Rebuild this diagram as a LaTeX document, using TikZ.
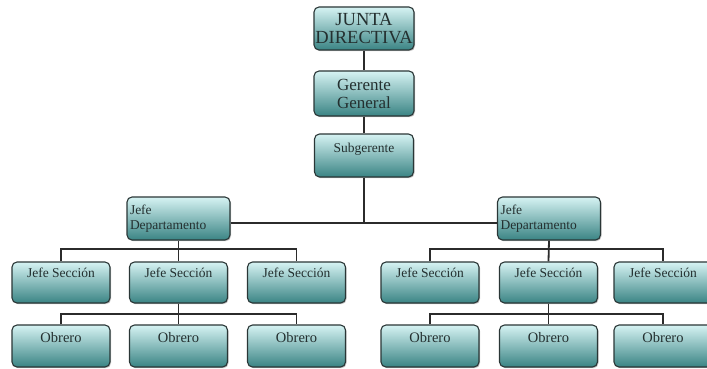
\documentclass[tikz,border=0pt]{standalone}
\usepackage{fontspec}
\setmainfont{Liberation Serif}
\usetikzlibrary{shadows}
\definecolor{boxtop}{HTML}{D6F3F3}
\definecolor{boxmid}{HTML}{99D3D3}
\definecolor{boxbot}{HTML}{3A8484}
\definecolor{boxedge}{HTML}{2A3636}
\definecolor{txt}{HTML}{243030}
\definecolor{wire}{HTML}{2B2B2B}
\tikzset{
  orgbox/.style={rounded corners=5pt, draw=boxedge, line width=1.1pt,
    top color=boxtop, middle color=boxmid, bottom color=boxbot,
    drop shadow={opacity=0.45, shadow xshift=1pt, shadow yshift=-1.2pt},
    inner sep=0pt, text=txt, font=\fontsize{13.5}{15}\selectfont},
  bigbox/.style={orgbox, minimum width=100pt, align=center,
    font=\fontsize{17}{18}\selectfont},
  secbox/.style={orgbox, minimum width=98pt, text height=15pt, text depth=26pt},
  obrbox/.style={orgbox, minimum width=98pt, text height=17pt, text depth=25pt,
    font=\fontsize{14.5}{16}\selectfont},
  deptbox/.style={orgbox, minimum width=103pt, minimum height=43pt,
    text width=97pt, align=left},
  wireline/.style={draw=wire, line width=1.8pt}
}
\begin{document}
\begin{tikzpicture}[x=1pt,y=-1pt]
\useasboundingbox (0,0) rectangle (707,369);
\node[bigbox, minimum height=43pt, font=\fontsize{18.5}{18}\selectfont] (junta) at (364,28.5) {JUNTA\\DIRECTIVA};
\node[bigbox, minimum height=45pt] (ger) at (364,93.5) {Gerente\\General};
\node[orgbox, minimum width=99pt, text height=18pt, text depth=25pt] (sub) at (364,155.5) {Subgerente};
\node[deptbox] (jdL) at (178.5,218.5) {Jefe\\Departamento};
\node[deptbox] (jdR) at (549,218.5) {Jefe\\Departamento};
% sections
\node[secbox] (s1) at (61,282.5) {Jefe Sección};
\node[secbox] (s2) at (178.5,282.5) {Jefe Sección};
\node[secbox] (s3) at (296.5,282.5) {Jefe Sección};
\node[secbox] (r1) at (430,282.5) {Jefe Sección};
\node[secbox] (r2) at (548.5,282.5) {Jefe Sección};
\node[secbox] (r3) at (663,282.5) {Jefe Sección};
% obreros
\node[obrbox] (o1) at (61,346) {Obrero};
\node[obrbox] (o2) at (178.5,346) {Obrero};
\node[obrbox] (o3) at (296.5,346) {Obrero};
\node[obrbox] (p1) at (430,346) {Obrero};
\node[obrbox] (p2) at (548.5,346) {Obrero};
\node[obrbox] (p3) at (663,346) {Obrero};
\coordinate (mid) at (364,223);
\path[wireline] (junta.south) -- (ger.north);
\path[wireline] (ger.south) -- (sub.north);
\path[wireline] (sub.south) -- (mid);
\path[wireline] (jdL.east |- mid) -- (jdR.west |- mid);
% left department
\path[wireline] (jdL.south) -- (s2.north);
\path[wireline] (s1.north) -- ++(0,-12.5) -| (s3.north);
\path[wireline] (s2.south) -- (o2.north);
\path[wireline] (o1.north) -- ++(0,-10.5) -| (o3.north);
% right department
\path[wireline] (jdR.south) -- (r2.north);
\path[wireline] (r1.north) -- ++(0,-12.5) -| (r3.north);
\path[wireline] (r2.south) -- (p2.north);
\path[wireline] (p1.north) -- ++(0,-10.5) -| (p3.north);
\end{tikzpicture}
\end{document}
